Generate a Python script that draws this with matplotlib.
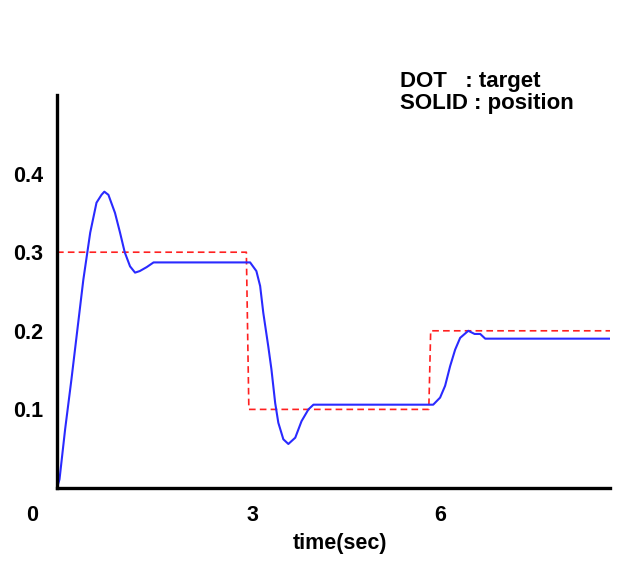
import matplotlib.pyplot as plt
from matplotlib.transforms import ScaledTranslation

# --- Data ---
TARGET_T = [0.0, 3.02, 3.06, 5.93, 5.96, 8.82]
TARGET_Y = [0.30, 0.30, 0.10, 0.10, 0.20, 0.20]

POS_T = [0.00, 0.04, 0.13, 0.23, 0.42, 0.53, 0.63, 0.71, 0.755, 0.82, 0.925,
         1.005, 1.08, 1.165, 1.245, 1.32, 1.43, 1.54, 3.08, 3.18, 3.24, 3.29,
         3.37, 3.42, 3.48, 3.53, 3.61, 3.69, 3.80, 3.90, 4.01, 4.09, 6.00,
         6.11, 6.19, 6.27, 6.35, 6.43, 6.56, 6.66, 6.75, 6.83, 8.82]
POS_Y = [0.000, 0.011, 0.075, 0.138, 0.265, 0.325, 0.363, 0.373, 0.377, 0.373,
         0.350, 0.325, 0.300, 0.282, 0.274, 0.276, 0.281, 0.287, 0.287, 0.276,
         0.257, 0.223, 0.180, 0.151, 0.108, 0.083, 0.062, 0.056, 0.064, 0.085,
         0.100, 0.106, 0.106, 0.115, 0.130, 0.155, 0.176, 0.191, 0.200, 0.196,
         0.196, 0.190, 0.190]

X_TICKS = [0, 3, 6]
X_TICK_LABELS = ['0', '3', '6']
X_LABEL_SHIFT_PX = [-25, 7, 7]  # labels sit off their tick positions
Y_TICKS = [0.1, 0.2, 0.3, 0.4]
Y_TICK_LABELS = ['0.1', '0.2', '0.3', '0.4']

FONT = 'Liberation Sans'

fig = plt.figure(figsize=(6.24, 5.63), dpi=100)
ax = fig.add_axes([57 / 624, 1 - 488 / 563, (610 - 57) / 624, (488 - 95) / 563])

ax.plot(TARGET_T, TARGET_Y, color='#ff2020', lw=1.2, ls=(0, (4, 2.5)))
ax.plot(POS_T, POS_Y, color='#2a2aff', lw=1.5)

ax.set_xlim(0, 8.82)
ax.set_ylim(0, 0.5)

for side in ['top', 'right']:
    ax.spines[side].set_visible(False)
for side in ['left', 'bottom']:
    ax.spines[side].set_linewidth(2.4)
    ax.spines[side].set_color('black')

ax.set_xticks(X_TICKS)
ax.set_xticklabels(X_TICK_LABELS, fontfamily=FONT, fontweight='bold', fontsize=15.5)
ax.set_yticks(Y_TICKS)
ax.set_yticklabels(Y_TICK_LABELS, fontfamily=FONT, fontweight='bold', fontsize=15.5)
ax.tick_params(axis='x', length=0, pad=12)
ax.tick_params(axis='y', length=0, pad=10)

for lab, dx in zip(ax.get_xticklabels(), X_LABEL_SHIFT_PX):
    lab.set_transform(lab.get_transform() + ScaledTranslation(dx / 100, 0, fig.dpi_scale_trans))

fig.text(340 / 624, 1 - 544 / 563, 'time(sec)', ha='center', va='center',
         fontfamily=FONT, fontweight='bold', fontsize=15.5)
fig.text(400 / 624, 1 - 71 / 563, 'DOT   : target\nSOLID : position', ha='left', va='top',
         fontfamily=FONT, fontweight='bold', fontsize=16, linespacing=1.05)

fig.savefig('out.png', dpi=100, facecolor='white')
